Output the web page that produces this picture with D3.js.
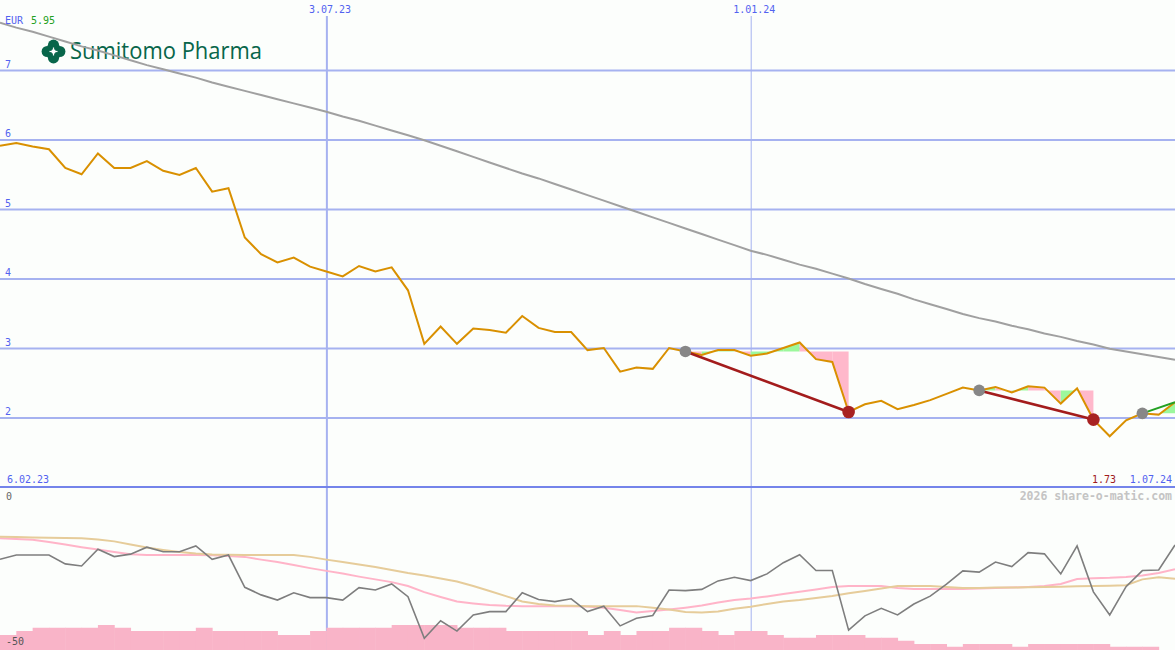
<!DOCTYPE html>
<html><head><meta charset="utf-8">
<script src="https://cdn.jsdelivr.net/npm/d3@7"></script>
<style>html,body{margin:0;padding:0;background:#fcfefc;overflow:hidden}svg{display:block}</style>
</head><body><svg id="chart" width="1175" height="650"></svg>
<script>
// ---------- data ----------
const currency = "EUR";
const companyName = "Sumitomo Pharma";
const rangeStart = Date.UTC(2023,1,6);       // label "6.02.23"
const firstWeek = Date.UTC(2023,1,13);
const lastWeek  = Date.UTC(2024,6,1);        // label "1.07.24"
const dateTicks = [Date.UTC(2023,6,3), Date.UTC(2024,0,1)];
const priceTicks = [2,3,4,5,6,7];

const price = [5.91,5.95,5.90,5.86,5.59,5.50,5.80,5.59,5.59,5.69,
  5.55,5.49,5.59,5.25,5.30,4.59,4.35,4.23,4.30,4.17,
  4.10,4.03,4.18,4.10,4.16,3.83,3.06,3.31,3.06,3.28,
  3.26,3.22,3.46,3.29,3.23,3.23,2.97,3.00,2.66,2.72,
  2.70,3.00,2.95,2.90,2.97,2.97,2.89,2.92,3.00,3.08,
  2.84,2.80,2.08,2.19,2.24,2.12,2.18,2.25,2.34,2.43,
  2.39,2.44,2.36,2.45,2.43,2.20,2.42,1.97,1.73,1.96,
  2.06,2.04,2.22];

const longAverage = [7.68,7.61,7.55,7.48,7.41,7.34,7.28,7.21,7.14,7.07,
  7.01,6.95,6.89,6.82,6.76,6.70,6.64,6.58,6.52,6.46,
  6.40,6.33,6.27,6.20,6.13,6.06,5.99,5.91,5.83,5.75,
  5.67,5.59,5.51,5.44,5.36,5.28,5.20,5.12,5.04,4.96,
  4.88,4.80,4.72,4.64,4.56,4.48,4.40,4.34,4.27,4.20,
  4.14,4.07,4.00,3.92,3.85,3.78,3.70,3.63,3.56,3.49,
  3.43,3.38,3.32,3.27,3.21,3.16,3.10,3.05,2.99,2.95,
  2.91,2.87,2.83];

// trades: entry week index, exit week index (last one still open)
const tradeEntries = [42, 60, 70];
const tradeExits   = [52, 67, 72];
const tradeOpen    = [false, false, true];

const oscillator = [-22.8,-21.4,-21.4,-21.4,-24.3,-25.0,-19.5,-21.9,-21.1,-18.8,
  -20.3,-20.3,-18.4,-22.8,-21.4,-32.0,-34.5,-36.2,-33.8,-35.4,
  -35.4,-36.2,-32.1,-32.9,-30.9,-35.1,-48.8,-43.0,-46.4,-41.1,
  -40.0,-40.0,-33.8,-36.0,-36.7,-35.8,-40.0,-38.2,-44.7,-42.2,
  -41.3,-32.9,-33.1,-32.7,-29.9,-28.7,-29.8,-27.6,-23.9,-21.3,
  -26.5,-26.5,-46.1,-41.4,-38.9,-41.1,-37.5,-34.9,-31.0,-26.6,
  -27.0,-23.7,-25.2,-20.6,-21.0,-27.6,-18.4,-33.5,-41.1,-31.8,
  -26.5,-26.3,-18.1];

const oscAvgPink = [-15.9,-16.1,-16.4,-17.1,-17.9,-18.8,-19.6,-20.4,-21.1,-21.4,
  -21.4,-21.4,-21.4,-21.5,-21.7,-22.0,-22.9,-23.7,-24.7,-25.7,
  -26.6,-27.5,-28.5,-29.4,-30.3,-31.6,-33.6,-35.2,-36.7,-37.3,
  -37.8,-38.1,-38.2,-38.2,-38.2,-38.2,-38.3,-38.7,-39.5,-40.3,
  -39.8,-39.3,-38.7,-38.0,-37.0,-36.2,-35.7,-35.0,-34.2,-33.5,
  -32.7,-31.9,-31.6,-31.6,-31.6,-32.2,-32.6,-32.6,-32.6,-32.6,
  -32.4,-32.2,-32.1,-31.9,-31.6,-30.9,-29.3,-29.0,-28.9,-28.6,
  -28.1,-27.3,-26.1];

const oscAvgTan = [-15.4,-15.5,-15.6,-15.7,-15.8,-15.9,-16.3,-16.9,-17.9,-18.9,
  -19.7,-20.4,-20.9,-21.2,-21.3,-21.4,-21.4,-21.4,-21.4,-22.0,
  -22.9,-23.7,-24.5,-25.3,-26.3,-27.3,-28.1,-29.1,-30.1,-31.6,
  -33.2,-34.9,-36.7,-37.5,-38.0,-38.1,-38.2,-38.2,-38.2,-38.2,
  -38.7,-39.3,-40.1,-40.3,-40.0,-39.1,-38.4,-37.5,-36.7,-36.2,
  -35.5,-34.9,-34.0,-33.2,-32.4,-31.6,-31.6,-31.6,-31.9,-32.2,
  -32.2,-32.1,-32.1,-32.0,-31.9,-31.8,-31.7,-31.6,-31.5,-31.3,
  -29.4,-28.7,-29.2];

const volume = [60,76,89,89,89,89,100,89,76,76,
  76,76,89,76,76,76,76,60,60,76,
  89,89,89,89,100,100,100,100,89,89,
  89,76,76,76,76,76,60,76,60,76,
  76,89,89,76,60,76,76,60,49,49,
  60,60,60,49,49,37,24,24,13,24,
  24,24,13,24,24,24,24,24,13,13,
  13,0,0];

// ---------- drawing ----------
const W = 1175, H = 650;
const FONT = "'DejaVu Sans Mono', monospace";
const BLUE_TXT = "#5262f0", GRID = "#a6b2f0";
const weeks = d3.utcMonday.range(firstWeek, lastWeek + 86400000);

const x = d3.scaleUtc().domain([firstWeek, lastWeek]).range([0, W]);
const yP = d3.scaleLinear().domain([1, 7]).range([487, 70]);
const yL = d3.scaleLinear().domain([-50, 0]).range([642, 490]);
const yV = d3.scaleLinear().domain([0, 100]).range([650, 625]);
const fmt = d3.utcFormat("%-d.%m.%y");

const svg = d3.select("#chart");
svg.append("rect").attr("width", W).attr("height", H).attr("fill", "#fcfefc");

// horizontal price grid via axis
const gy = svg.append("g").attr("transform", "translate(0,0)")
  .call(d3.axisLeft(yP).tickValues(priceTicks).tickSize(-W).tickFormat(d3.format("d")));
gy.select(".domain").remove();
gy.selectAll(".tick line").attr("stroke", GRID).attr("stroke-width", 2);
gy.selectAll(".tick text").attr("x", 5).attr("dy", null).attr("y", -3)
  .attr("text-anchor", "start").attr("fill", BLUE_TXT)
  .style("font-family", FONT).style("font-size", "10px");

// vertical date lines via axis
const gx = svg.append("g").attr("transform", "translate(0,16)")
  .call(d3.axisTop(x).tickValues(dateTicks).tickSize(-(H - 16)).tickFormat(fmt));
gx.select(".domain").remove();
gx.selectAll(".tick line").attr("stroke", GRID)
  .attr("stroke-width", (d, i) => i === 0 ? 2 : 1);
gx.selectAll(".tick text").attr("x", -18).attr("dy", null).attr("y", -3)
  .attr("text-anchor", "start").attr("fill", BLUE_TXT)
  .style("font-family", FONT).style("font-size", "10px");

// panel separator
svg.append("line").attr("x1", 0).attr("x2", W).attr("y1", yP(1)).attr("y2", yP(1))
  .attr("stroke", "#7484ea").attr("stroke-width", 2);

// logo
const logo = svg.append("g").attr("transform", "translate(53.5,51.5)");
const LG = "#08664a";
[[-6.3,0],[6.3,0],[0,-6.3],[0,6.3]].forEach(p =>
  logo.append("circle").attr("cx", p[0]).attr("cy", p[1]).attr("r", 5.6).attr("fill", LG));
logo.append("rect").attr("x", -6).attr("y", -6).attr("width", 12).attr("height", 12).attr("fill", LG);
logo.append("circle").attr("r", 2.2).attr("fill", "#fff");
logo.append("rect").attr("x", -0.6).attr("y", -4).attr("width", 1.2).attr("height", 8).attr("fill", "#fff");
logo.append("rect").attr("x", -4).attr("y", -0.6).attr("width", 8).attr("height", 1.2).attr("fill", "#fff");
svg.append("text").attr("x", 70).attr("y", 59).text(companyName)
  .attr("fill", LG).style("font-family", "'Open Sans', 'Noto Sans', sans-serif")
  .style("font-size", "23px").attr("textLength", 192).attr("lengthAdjust", "spacingAndGlyphs");

// long moving average
const lineP = d3.line().x((d, i) => x(weeks[i])).y(d => yP(d));
svg.append("path").datum(longAverage).attr("d", lineP)
  .attr("fill", "none").attr("stroke", "#a0a0a0").attr("stroke-width", 2);

// trade fills
tradeEntries.forEach((e, t) => {
  const lvl = price[e];
  for (let i = e; i < tradeExits[t]; i++) {
    const pts = [[x(weeks[i]), yP(lvl)], [x(weeks[i]), yP(price[i])],
                 [x(weeks[i+1]), yP(price[i+1])], [x(weeks[i+1]), yP(lvl)]];
    svg.append("polygon").attr("points", pts.map(p => p.join(",")).join(" "))
      .attr("fill", price[i+1] >= price[i] ? "#9cf89c" : "#ffb8cb");
  }
});

// price line
svg.append("path").datum(price).attr("d", lineP)
  .attr("fill", "none").attr("stroke", "#d99000").attr("stroke-width", 2)
  .attr("stroke-linejoin", "miter");

// trade lines and dots
tradeEntries.forEach((e, t) => {
  const xx = tradeExits[t];
  svg.append("line").attr("x1", x(weeks[e])).attr("y1", yP(price[e]))
    .attr("x2", x(weeks[xx])).attr("y2", yP(price[xx]))
    .attr("stroke", tradeOpen[t] ? "#23a123" : "#a31c1c").attr("stroke-width", tradeOpen[t] ? 2 : 2.6);
});
tradeEntries.forEach((e, t) => {
  svg.append("circle").attr("cx", x(weeks[e])).attr("cy", yP(price[e])).attr("r", 5.8).attr("fill", "#878787");
  if (!tradeOpen[t]) {
    const xx = tradeExits[t];
    svg.append("circle").attr("cx", x(weeks[xx])).attr("cy", yP(price[xx])).attr("r", 6.3).attr("fill", "#a82222");
  }
});

// volume bars
svg.append("g").selectAll("rect").data(volume.slice(0, weeks.length - 1)).join("rect")
  .attr("x", (d, i) => x(weeks[i]))
  .attr("width", (d, i) => x(weeks[i+1]) - x(weeks[i]) + 0.5)
  .attr("y", d => yV(d)).attr("height", d => yV(0) - yV(d))
  .attr("fill", "#f9b4c8");

// lower panel lines
const lineL = d3.line().x((d, i) => x(weeks[i])).y(d => yL(d));
svg.append("path").datum(oscAvgPink).attr("d", lineL)
  .attr("fill", "none").attr("stroke", "#ffb4c8").attr("stroke-width", 2);
svg.append("path").datum(oscAvgTan).attr("d", lineL)
  .attr("fill", "none").attr("stroke", "#e6cc9a").attr("stroke-width", 2);
svg.append("path").datum(oscillator).attr("d", lineL)
  .attr("fill", "none").attr("stroke", "#7e7e7e").attr("stroke-width", 1.6);

// labels
const txt = (xp, yp, s, col, anchor, size, weight) => svg.append("text")
  .attr("x", xp).attr("y", yp).text(s).attr("fill", col)
  .attr("text-anchor", anchor || "start")
  .style("font-family", FONT).style("font-size", (size || 10) + "px")
  .style("font-weight", weight || "normal");

txt(5, 24, currency, BLUE_TXT);
txt(31, 24, d3.max(price).toFixed(2), "#22a022");
txt(7, 483, fmt(rangeStart), BLUE_TXT);
txt(1116, 483, d3.min(price).toFixed(2), "#a01c1c", "end");
txt(1172, 483, fmt(lastWeek), BLUE_TXT, "end");
txt(1172, 500, "2026 share-o-matic.com", "#c4c4c4", "end", 11.5, "bold");
txt(6, 500, "0", "#666");
txt(6, 645, "-50", "#555");
</script></body></html>
